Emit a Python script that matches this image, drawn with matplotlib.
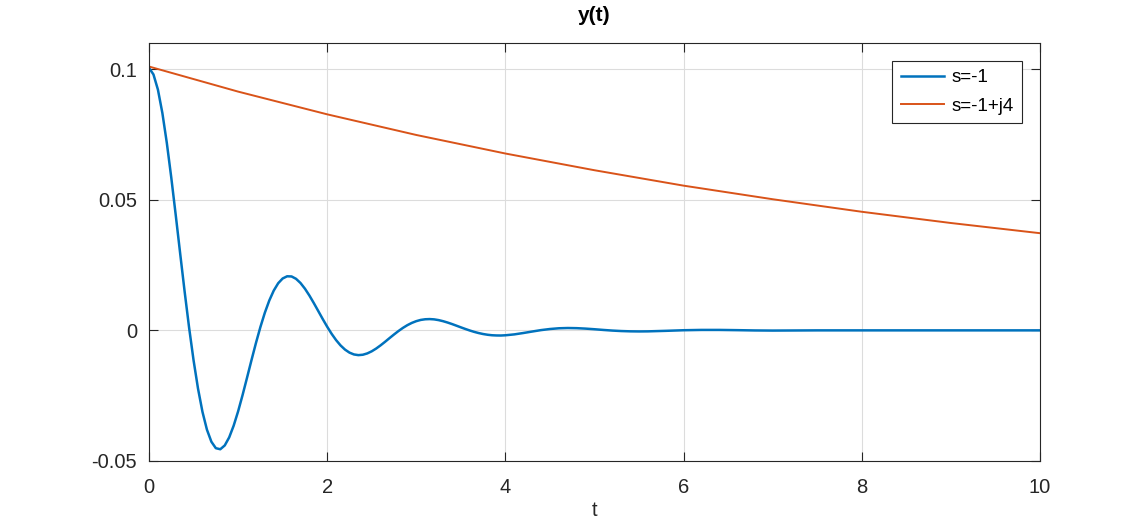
import matplotlib
matplotlib.use('Agg')
import matplotlib.pyplot as plt

# values
t_osc = [0.00, 0.05, 0.10, 0.15, 0.20, 0.25, 0.30, 0.35, 0.40, 0.45,
         0.50, 0.55, 0.60, 0.65, 0.70, 0.75, 0.80, 0.85, 0.90, 0.95,
         1.00, 1.05, 1.10, 1.15, 1.20, 1.25, 1.30, 1.35, 1.40, 1.45,
         1.50, 1.55, 1.60, 1.65, 1.70, 1.75, 1.80, 1.85, 1.90, 1.95,
         2.00, 2.05, 2.10, 2.15, 2.20, 2.25, 2.30, 2.35, 2.40, 2.45,
         2.50, 2.55, 2.60, 2.65, 2.70, 2.75, 2.80, 2.85, 2.90, 2.95,
         3.00, 3.05, 3.10, 3.15, 3.20, 3.25, 3.30, 3.35, 3.40, 3.45,
         3.50, 3.55, 3.60, 3.65, 3.70, 3.75, 3.80, 3.85, 3.90, 3.95,
         4.0, 4.1, 4.2, 4.3, 4.4, 4.5, 4.6, 4.7, 4.8, 4.9,
         5.0, 5.1, 5.2, 5.3, 5.4, 5.5, 5.6, 5.8, 6.0, 6.2,
         6.4, 6.6, 6.8, 7.0, 7.5, 8.0, 9.0, 10.0]
y_osc = [0.1005, 0.09796, 0.09216, 0.08319, 0.07173, 0.05846, 0.04411, 0.02934, 0.01479, 0.00104,
         -0.01145, -0.02229, -0.03120, -0.03800, -0.04263, -0.04510, -0.04551, -0.04405, -0.04096, -0.03650,
         -0.03101, -0.02478, -0.01815, -0.01142, -0.00487, 0.00126, 0.00675, 0.01144, 0.01523, 0.01805,
         0.01986, 0.02070, 0.02064, 0.01974, 0.01814, 0.01596, 0.01334, 0.01043, 0.00738, 0.00432,
         0.00138, -0.00134, -0.00374, -0.00577, -0.00737, -0.00852, -0.00922, -0.00948, -0.00933, -0.00882,
         -0.00801, -0.00695, -0.00571, -0.00436, -0.00295, -0.00157, -0.00025, 0.00095, 0.00200, 0.00286,
         0.00353, 0.00400, 0.00425, 0.00432, 0.00421, 0.00393, 0.00352, 0.00301, 0.00243, 0.00180,
         0.00116, 0.00054, -0.00005, -0.00058, -0.00103, -0.00140, -0.00168, -0.00187, -0.00195, -0.00197,
         -0.00188, -0.00154, -0.00102, -0.00045, 0.00010, 0.00052, 0.00080, 0.00090, 0.00084, 0.00067,
         0.00043, 0.00016, -0.00008, -0.00026, -0.00037, -0.00041, -0.00038, -0.00018, 0.00005, 0.00017,
         0.00017, 0.00008, -0.00003, -0.00008, 0.0, 0.0, 0.0, 0.0]

t_dec = [0, 1, 2, 3, 4, 5, 6, 7, 8, 9, 10]
y_dec = [0.101, 0.0914, 0.0827, 0.0748, 0.0677, 0.0613, 0.0554, 0.0502, 0.0454, 0.0411, 0.0372]

xticks = [0, 2, 4, 6, 8, 10]
yticks = [-0.05, 0, 0.05, 0.1]
ytick_labels = ['-0.05', '0', '0.05', '0.1']

plt.rcParams['font.family'] = ['Liberation Sans', 'DejaVu Sans']

fig = plt.figure(figsize=(11.48, 5.19), dpi=100)
ax = fig.add_axes([0.1298, 0.1118, 0.7761, 0.8053])

ax.plot(t_osc, y_osc, color='#0072BD', linewidth=1.8, label='s=-1')
ax.plot(t_dec, y_dec, color='#D95319', linewidth=1.4, label='s=-1+j4')

ax.set_xlim(0, 10)
ax.set_ylim(-0.05, 0.11)
ax.set_xticks(xticks)
ax.set_xticklabels([str(v) for v in xticks])
ax.set_yticks(yticks)
ax.set_yticklabels(ytick_labels)

ax.grid(True, color='#dcdcdc', linewidth=0.8)
ax.set_axisbelow(True)
ax.tick_params(direction='in', length=6.5, width=0.8, top=True, right=True,
               labelsize=14.5, colors='#262626')
ax.tick_params(axis='x', pad=12)
ax.tick_params(axis='y', pad=8.5)
for s in ax.spines.values():
    s.set_color('#262626')
    s.set_linewidth(0.8)

ax.set_title('y(t)', fontsize=15, fontweight='bold', pad=16)
ax.set_xlabel('t', fontsize=14.5, color='#262626', labelpad=3)

leg = ax.legend(loc='upper right', bbox_to_anchor=(0.98, 0.958), borderaxespad=0,
                fontsize=13.5, fancybox=False, framealpha=1, edgecolor='#262626',
                handlelength=2.3, handletextpad=0.4, borderpad=0.45, labelspacing=0.6)
leg.get_frame().set_linewidth(0.8)

plt.savefig('out.png', dpi=100)
